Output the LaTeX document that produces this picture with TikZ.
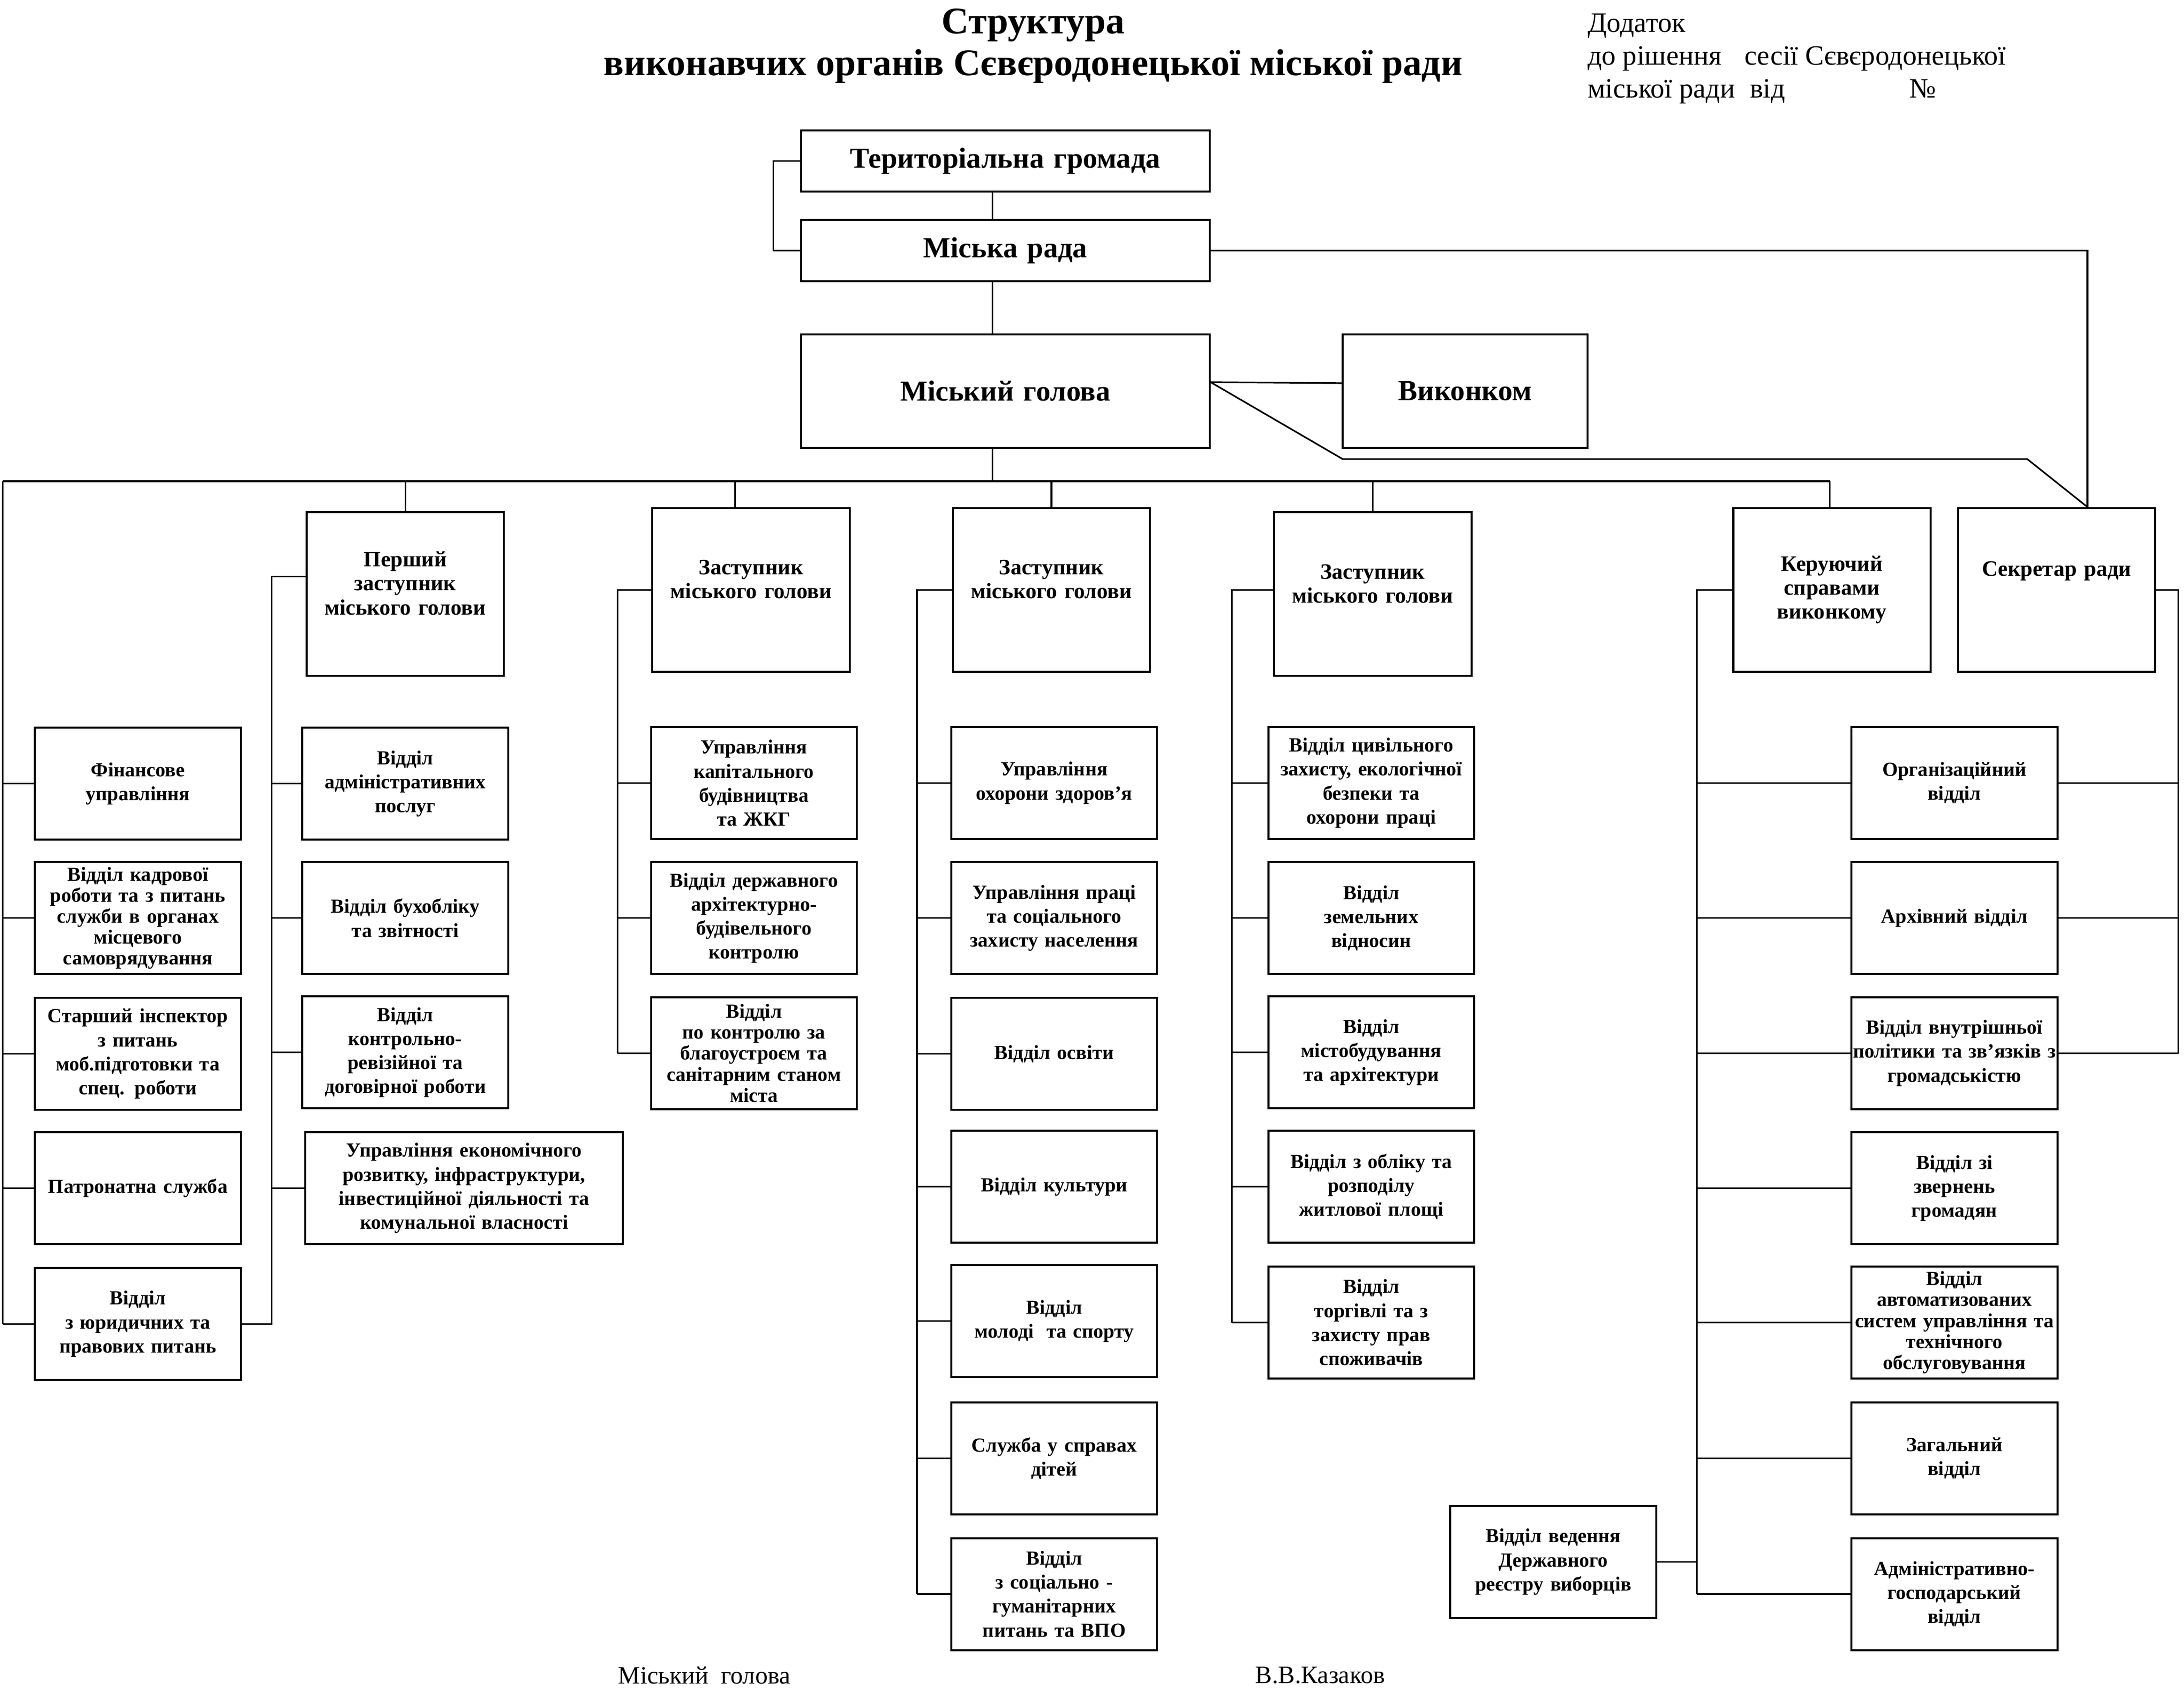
\documentclass[tikz,border=0pt]{standalone}
\usepackage{fontspec}
\setmainfont{Liberation Serif}
\begin{document}
\begin{tikzpicture}[x=0.7pt, y=-0.7pt,
    link/.style={line width=0.8pt},
    headbox/.style={draw, line width=1pt, inner sep=0pt, align=center, text width=204.4pt, font=\fontsize{14.5}{17}\selectfont\bfseries},
    deputybox/.style={draw, line width=1pt, inner sep=0pt, align=center, text width=98.7pt, minimum height=81.9pt, font=\fontsize{11}{12}\selectfont\bfseries},
    raisedtext/.style={text depth=#1},
    unitbox/.style={draw, line width=1pt, inner sep=0pt, align=center, text width=102.9pt, minimum height=56pt, font=\fontsize{10}{12}\selectfont\bfseries},
    tightbox/.style={font=\fontsize{10}{10.5}\selectfont\bfseries},
    widebox/.style={text width=158.9pt}]
        \useasboundingbox (0, 0) rectangle (1560, 1214.7);

        % Title
        \node[align=center, font=\fontsize{18.8}{21}\selectfont\bfseries] (title) at (738, 33) {Структура\\ виконавчих органів Сєвєродонецької міської ради};
        \node[anchor=west, align=left, font=\fontsize{14}{16.5}\selectfont] (note) at (1129, 42) {Додаток\\ до рішення\hspace{8pt} сесії Сєвєродонецької\\ міської ради\hspace{4pt} від\hspace{62pt}№};

        % Top of the structure
        \node[headbox, minimum height=30.8pt] (hromada) at (718, 115) {Територіальна громада};
        \node[headbox, minimum height=30.8pt] (rada) at (718, 179) {Міська рада};
        \node[headbox, minimum height=56.7pt] (holova) at (718, 279.5) {Міський голова};
        \node[headbox, text width=122.5pt, minimum height=56.7pt] (vykonkom) at (1046.5, 279.5) {Виконком};

        % Deputies
        \node[deputybox, raisedtext=35pt] (pershyi) at (289.5, 424.5) {Перший\\ заступник\\ міського голови};
        \node[deputybox, raisedtext=22.5pt] (zast1) at (536.5, 421.5) {Заступник\\ міського голови};
        \node[deputybox, raisedtext=22.5pt] (zast2) at (751, 421.5) {Заступник\\ міського голови};
        \node[deputybox, raisedtext=22.5pt] (zast3) at (980.5, 424.5) {Заступник\\ міського голови};
        \node[deputybox] (keruy) at (1308.5, 421.5) {Керуючий\\ справами\\ виконкому};
        \node[deputybox, raisedtext=21pt] (sekr) at (1469, 421.5) {Секретар ради};

        % Units under the mayor
        \node[unitbox] (fin) at (98.5, 560) {Фінансове\\ управління};
        \node[unitbox, tightbox] (kadry) at (98.5, 656) {Відділ кадрової\\ роботи та з питань\\ служби в органах\\ місцевого\\ самоврядування};
        \node[unitbox] (insp) at (98.5, 753) {Старший інспектор\\ з питань\\ моб.підготовки та\\ спец. роботи};
        \node[unitbox] (patr) at (98.5, 849) {Патронатна служба};
        \node[unitbox] (yur) at (98.5, 946) {Відділ\\ з юридичних та\\ правових питань};

        % Units of the first deputy
        \node[unitbox] (adm) at (289.5, 560) {Відділ\\ адміністративних\\ послуг};
        \node[unitbox] (buh) at (289.5, 656) {Відділ бухобліку\\ та звітності};
        \node[unitbox] (krr) at (289.5, 752) {Відділ\\ контрольно-\\ ревізійної та\\ договірної роботи};
        \node[unitbox, widebox] (econ) at (331.5, 849) {Управління економічного\\ розвитку, інфраструктури,\\ інвестиційної діяльності та\\ комунальної власності};

        % Units of deputy 1
        \node[unitbox] (kap) at (538.5, 559.5) {Управління\\ капітального\\ будівництва\\ та ЖКГ};
        \node[unitbox] (dabk) at (538.5, 656) {Відділ державного\\ архітектурно-\\ будівельного\\ контролю};
        \node[unitbox, tightbox] (blag) at (538.5, 752.5) {Відділ\\ по контролю за\\ благоустроєм та\\ санітарним станом\\ міста};

        % Units of deputy 2
        \node[unitbox] (zdor) at (753, 559.5) {Управління\\ охорони здоров'я};
        \node[unitbox] (prac) at (753, 656) {Управління праці\\ та соціального\\ захисту населення};
        \node[unitbox] (osv) at (753, 753) {Відділ освіти};
        \node[unitbox] (kult) at (753, 848) {Відділ культури};
        \node[unitbox] (mol) at (753, 944) {Відділ\\ молоді\hspace{3pt} та спорту};
        \node[unitbox] (dit) at (753, 1042) {Служба у справах\\ дітей};
        \node[unitbox] (gum) at (753, 1139) {Відділ\\ з соціально -\\ гуманітарних\\ питань та ВПО};

        % Units of deputy 3
        \node[unitbox] (cz) at (979.5, 559.5) {Відділ цивільного\\ захисту, екологічної\\ безпеки та\\ охорони праці};
        \node[unitbox] (zem) at (979.5, 656) {Відділ\\ земельних\\ відносин};
        \node[unitbox] (mist) at (979.5, 752) {Відділ\\ містобудування\\ та архітектури};
        \node[unitbox] (zhyt) at (979.5, 848) {Відділ з обліку та\\ розподілу\\ житлової площі};
        \node[unitbox] (torh) at (979.5, 945) {Відділ\\ торгівлі та з\\ захисту прав\\ споживачів};

        % Units of the executive manager
        \node[unitbox] (org) at (1396, 559.5) {Організаційний\\ відділ};
        \node[unitbox] (arh) at (1396, 656) {Архівний відділ};
        \node[unitbox] (vnut) at (1396, 752.5) {Відділ внутрішньої\\ \makebox[0pt]{політики та зв’язків з}\\ громадськістю};
        \node[unitbox] (zvern) at (1396, 849) {Відділ зі\\ звернень\\ громадян};
        \node[unitbox, tightbox] (asu) at (1396, 945) {Відділ\\ автоматизованих\\ \makebox[0pt]{систем управління та}\\ технічного\\ обслуговування};
        \node[unitbox] (zah) at (1396, 1042) {Загальний\\ відділ};
        \node[unitbox] (ahv) at (1396, 1139) {Адміністративно-\\ господарський\\ відділ};
        \node[unitbox] (reestr) at (1109.5, 1116) {Відділ ведення\\ Державного\\ реєстру виборців};

        % Signature
        \node[font=\fontsize{12.5}{15}\selectfont] (sign) at (503, 1197) {Міський\hspace{3pt} голова};
        \node[font=\fontsize{12.5}{15}\selectfont] (name) at (943, 1197) {В.В.Казаков};

        % Connectors at the top
        \coordinate (spine) at (709, 0);
        \coordinate (busL) at (2, 344);
        \coordinate (busR) at (1307, 344);
        \coordinate (k1) at (959, 328);
        \coordinate (k2) at (1448, 328);
        \draw[link] (hromada.south -| spine) -- (rada.north -| spine);
        \draw[link] (rada.south -| spine) -- (holova.north -| spine);
        \draw[link] (holova.south -| spine) -- (busL -| spine);
        \draw[link] (hromada.west) -- ++(-19, 0) |- (rada.west);
        \draw[link] (rada.east) -| ([xshift=15.4pt]sekr.north);
        \draw[link] ([yshift=4.5pt]holova.east) -- ([yshift=4pt]vykonkom.west);
        \draw[link] ([yshift=4.5pt]holova.east) -- (k1) -- (k2) -- ([xshift=15.4pt]sekr.north);

        % Bus
        \draw[link, line width=1pt] (busL) -- (busR);
        \draw[link] (pershyi.north) -- (pershyi.north |- busL);
        \draw[link] ([xshift=-8pt]zast1.north) -- ([xshift=-8pt]zast1.north |- busL);
        \draw[link] (zast2.north) -- (zast2.north |- busL);
        \draw[link] (zast3.north) -- (zast3.north |- busL);
        \draw[link] (busR) -- (busR |- keruy.north);

        % Left bracket
        \draw[link] (busL) -- (busL |- yur.west);
        \draw[link] (fin.west) -- (fin.west -| busL);
        \draw[link] (kadry.west) -- (kadry.west -| busL);
        \draw[link] (insp.west) -- (insp.west -| busL);
        \draw[link] (patr.west) -- (patr.west -| busL);
        \draw[link] (yur.west) -- (yur.west -| busL);

        % First deputy bracket
        \coordinate (b1) at (194, 412);
        \draw[link] (pershyi.west |- b1) -- (b1) -- (b1 |- yur.east) -- (yur.east);
        \draw[link] (adm.west) -- (adm.west -| b1);
        \draw[link] (buh.west) -- (buh.west -| b1);
        \draw[link] (krr.west) -- (krr.west -| b1);
        \draw[link] (econ.west) -- (econ.west -| b1);

        % Deputy 1 bracket
        \coordinate (b2) at (441, 421.5);
        \draw[link] (zast1.west) -- (b2) -- (b2 |- blag.west);
        \draw[link] (kap.west) -- (kap.west -| b2);
        \draw[link] (dabk.west) -- (dabk.west -| b2);
        \draw[link] (blag.west) -- (blag.west -| b2);

        % Deputy 2 bracket
        \coordinate (b3) at (655, 421.5);
        \draw[link] (zast2.west) -- (b3) -- (b3 |- gum.west);
        \draw[link] (zdor.west) -- (zdor.west -| b3);
        \draw[link] (prac.west) -- (prac.west -| b3);
        \draw[link] (osv.west) -- (osv.west -| b3);
        \draw[link] (kult.west) -- (kult.west -| b3);
        \draw[link] (mol.west) -- (mol.west -| b3);
        \draw[link] (dit.west) -- (dit.west -| b3);
        \draw[link] (gum.west) -- (gum.west -| b3);

        % Deputy 3 bracket
        \coordinate (b4) at (880, 421.5);
        \draw[link] (zast3.west |- b4) -- (b4) -- (b4 |- torh.west);
        \draw[link] (cz.west) -- (cz.west -| b4);
        \draw[link] (zem.west) -- (zem.west -| b4);
        \draw[link] (mist.west) -- (mist.west -| b4);
        \draw[link] (zhyt.west) -- (zhyt.west -| b4);
        \draw[link] (torh.west) -- (torh.west -| b4);

        % Executive manager bracket
        \coordinate (b5) at (1212, 421.5);
        \draw[link] (keruy.west) -- (b5) -- (b5 |- ahv.west);
        \draw[link] (org.west) -- (org.west -| b5);
        \draw[link] (arh.west) -- (arh.west -| b5);
        \draw[link] (vnut.west) -- (vnut.west -| b5);
        \draw[link] (zvern.west) -- (zvern.west -| b5);
        \draw[link] (asu.west) -- (asu.west -| b5);
        \draw[link] (zah.west) -- (zah.west -| b5);
        \draw[link] (ahv.west) -- (ahv.west -| b5);
        \draw[link] (reestr.east) -- (reestr.east -| b5);

        % Secretary bracket
        \coordinate (b6) at (1556, 421.5);
        \draw[link] (sekr.east) -- (b6) -- (b6 |- vnut.east);
        \draw[link] (org.east) -- (org.east -| b6);
        \draw[link] (arh.east) -- (arh.east -| b6);
        \draw[link] (vnut.east) -- (vnut.east -| b6);
    \end{tikzpicture}
\end{document}
